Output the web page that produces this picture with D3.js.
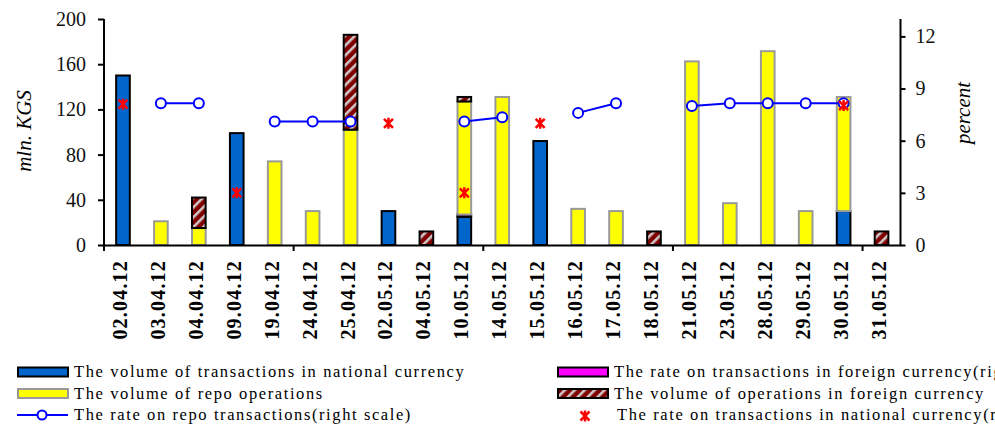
<!DOCTYPE html>
<html><head><meta charset="utf-8">
<script src="https://cdn.jsdelivr.net/npm/d3@7"></script>
<style>
html,body{margin:0;padding:0;background:#fff;}
svg{display:block;font-family:"Liberation Serif","Times New Roman",serif;}
</style></head>
<body>
<svg id="chart" width="995" height="426"></svg>
<script>
const categories = ["02.04.12","03.04.12","04.04.12","09.04.12","19.04.12","24.04.12","25.04.12","02.05.12","04.05.12","10.05.12","14.05.12","15.05.12","16.05.12","17.05.12","18.05.12","21.05.12","23.05.12","28.05.12","29.05.12","30.05.12","31.05.12"];
const nationalVolume = [150,0,0,99,0,0,0,30,0,25,0,92,0,0,0,0,0,0,0,30,0];
const foreignRateBar = [0,0,0,0,0,0,0,0,0,2,0,0,0,0,0,0,0,0,0,0,0];
const repoVolume = [0,21,15,0,74,30,102,0,0,100,131,0,32,30,0,162.5,37,171.5,30,101,0];
const foreignVolume = [0,0,27,0,0,0,84,0,12,4,0,0,0,0,12,0,0,0,0,0,12];
const repoRate = [null,8.15,8.15,null,7.1,7.1,7.1,null,null,7.1,7.35,null,7.6,8.15,null,8.0,8.15,8.15,8.15,8.15,null];
const nationalRate = [8.1,null,null,3.0,null,null,null,7.0,null,3.0,null,7.0,null,null,null,null,null,null,null,8.02,null];
const leftTicks = [0,40,80,120,160,200];
const rightTicks = [0,3,6,9,12];
const leftTitle = "mln. KGS";
const rightTitle = "percent";
const legendLeft = ["The volume of transactions in national currency","The volume of repo operations","The rate on repo transactions(right scale)"];
const legendRight = ["The rate on transactions in foreign currency(right scale)","The volume of operations in foreign currency","The rate on transactions in national currency(right scale)"];

const svg = d3.select("#chart");
const L = 104, R = 900.5, T = 19, B = 245;

const defs = svg.append("defs");
const pat = defs.append("pattern").attr("id","stripes").attr("patternUnits","userSpaceOnUse")
  .attr("width",7).attr("height",7).attr("patternTransform","rotate(-45)");
pat.append("rect").attr("width",7).attr("height",7).attr("fill","#800000");
pat.append("rect").attr("y",2).attr("width",7).attr("height",2.6).attr("fill","#d0c8c8");

const x = d3.scaleBand().domain(categories).range([L,R]).padding(0);
const yL = d3.scaleLinear().domain([0,200]).range([B,T]);
const yR = d3.scaleLinear().domain([0,13]).range([B,T]);

const table = categories.map((c,i)=>({cat:c,national:nationalVolume[i],frate:foreignRateBar[i],repo:repoVolume[i],foreign:foreignVolume[i]}));
const keys = ["national","frate","repo","foreign"];
const styles = {
  national:{fill:"#0066cc",stroke:"#000"},
  frate:{fill:"#ff00ff",stroke:"#000"},
  repo:{fill:"#ffff00",stroke:"#999"},
  foreign:{fill:"url(#stripes)",stroke:"#000"}
};
const stack = d3.stack().keys(keys)(table);
const bw = x.bandwidth()*0.36;
stack.forEach(layer=>{
  const st = styles[layer.key];
  svg.append("g").selectAll("rect").data(layer.filter(d=>d[1]-d[0]>0)).join("rect")
    .attr("x",d=>x(d.data.cat)+x.bandwidth()/2-bw/2)
    .attr("width",bw)
    .attr("y",d=>yL(d[1]))
    .attr("height",d=>yL(d[0])-yL(d[1]))
    .attr("fill",st.fill).attr("stroke",st.stroke).attr("stroke-width",2);
});

// repo rate line
const line = d3.line().defined(d=>d!=null).x((d,i)=>x(categories[i])+x.bandwidth()/2).y(d=>yR(d));
svg.append("path").datum(repoRate).attr("d",line).attr("fill","none").attr("stroke","#0000ff").attr("stroke-width",2);
svg.append("g").selectAll("circle").data(repoRate.map((v,i)=>({v,i})).filter(d=>d.v!=null)).join("circle")
  .attr("cx",d=>x(categories[d.i])+x.bandwidth()/2).attr("cy",d=>yR(d.v)).attr("r",5)
  .attr("fill","#fff").attr("stroke","#0000ff").attr("stroke-width",2);

// national rate stars
const starPath = "M-4.5,-4.5L4.5,4.5M-4.5,4.5L4.5,-4.5M0,-5.5L0,5.5";
svg.append("g").selectAll("path").data(nationalRate.map((v,i)=>({v,i})).filter(d=>d.v!=null)).join("path")
  .attr("transform",d=>`translate(${x(categories[d.i])+x.bandwidth()/2},${yR(d.v)})`)
  .attr("d",starPath).attr("stroke","#ff0000").attr("stroke-width",2.5).attr("fill","none");

// axes
const axL = svg.append("g").attr("transform",`translate(${L},0)`)
  .call(d3.axisLeft(yL).tickValues(leftTicks).tickSize(6).tickPadding(12).tickSizeOuter(0));
const axR = svg.append("g").attr("transform",`translate(${R},0)`)
  .call(d3.axisRight(yR).tickValues(rightTicks).tickSize(5).tickPadding(10).tickSizeOuter(0));
[axL,axR].forEach(a=>{
  a.select(".domain").attr("stroke","#000").attr("stroke-width",2);
  a.selectAll(".tick line").attr("stroke","#000").attr("stroke-width",2);
  a.selectAll("text").attr("font-size",20).attr("font-family","Liberation Serif").attr("fill","#111");
});
axL.select(".domain").attr("d",`M0,${T}V${B+1}`);
axR.select(".domain").attr("d",`M0,${T}V${B+1}`);

// x axis line + tick marks every 5 categories
const axB = svg.append("g").attr("transform",`translate(0,${B})`)
  .call(d3.axisBottom(x).tickSize(0).tickPadding(0).tickSizeOuter(0));
axB.select(".domain").attr("stroke","#000").attr("stroke-width",2);
axB.selectAll(".tick text")
  .attr("transform","translate(-3,15) rotate(-90)")
  .attr("text-anchor","end").attr("dy","0.35em").attr("y",0)
  .attr("font-size",20).attr("font-weight","bold").attr("letter-spacing",1.2)
  .attr("font-family","Liberation Serif").attr("fill","#000");
const markIdx = [0,5,10,15,20];
axB.append("g").selectAll("line").data(markIdx).join("line")
  .attr("x1",i=>x(categories[i])).attr("x2",i=>x(categories[i]))
  .attr("y1",0).attr("y2",6).attr("stroke","#000").attr("stroke-width",2);

// titles
svg.append("text").attr("transform","translate(31,131) rotate(-90)").attr("text-anchor","middle")
  .attr("font-size",21).attr("font-style","italic").text(leftTitle);
svg.append("text").attr("transform","translate(970,113) rotate(-90)").attr("text-anchor","middle")
  .attr("font-size",21).attr("font-style","italic").text(rightTitle);

// legend
const lg = svg.append("g").attr("font-size",16.5).attr("letter-spacing",1.6);
const rowsY = [372,393.5,415];
function rectSw(xx,yy,fill,stroke){
  lg.append("rect").attr("x",xx).attr("y",yy-4.5).attr("width",50).attr("height",9)
    .attr("fill",fill).attr("stroke",stroke).attr("stroke-width",2);
}
rectSw(18,rowsY[0],"#0066cc","#000");
rectSw(18,rowsY[1],"#ffff00","#999");
lg.append("line").attr("x1",17).attr("x2",68).attr("y1",rowsY[2]).attr("y2",rowsY[2]).attr("stroke","#0000ff").attr("stroke-width",2);
lg.append("circle").attr("cx",42).attr("cy",rowsY[2]).attr("r",4.5).attr("fill","#fff").attr("stroke","#0000ff").attr("stroke-width",2);
rectSw(558,rowsY[0],"#ff00ff","#000");
rectSw(558,rowsY[1],"url(#stripes)","#000");
lg.append("path").attr("transform",`translate(585,${rowsY[2]+1})`).attr("d",starPath).attr("stroke","#ff0000").attr("stroke-width",2.5);
legendLeft.forEach((t,i)=>lg.append("text").attr("x",74).attr("y",rowsY[i]).attr("dy","0.33em").text(t));
legendRight.forEach((t,i)=>lg.append("text").attr("x",i==2?617:614).attr("y",rowsY[i]).attr("dy","0.33em").text(t));
</script>
</body></html>
